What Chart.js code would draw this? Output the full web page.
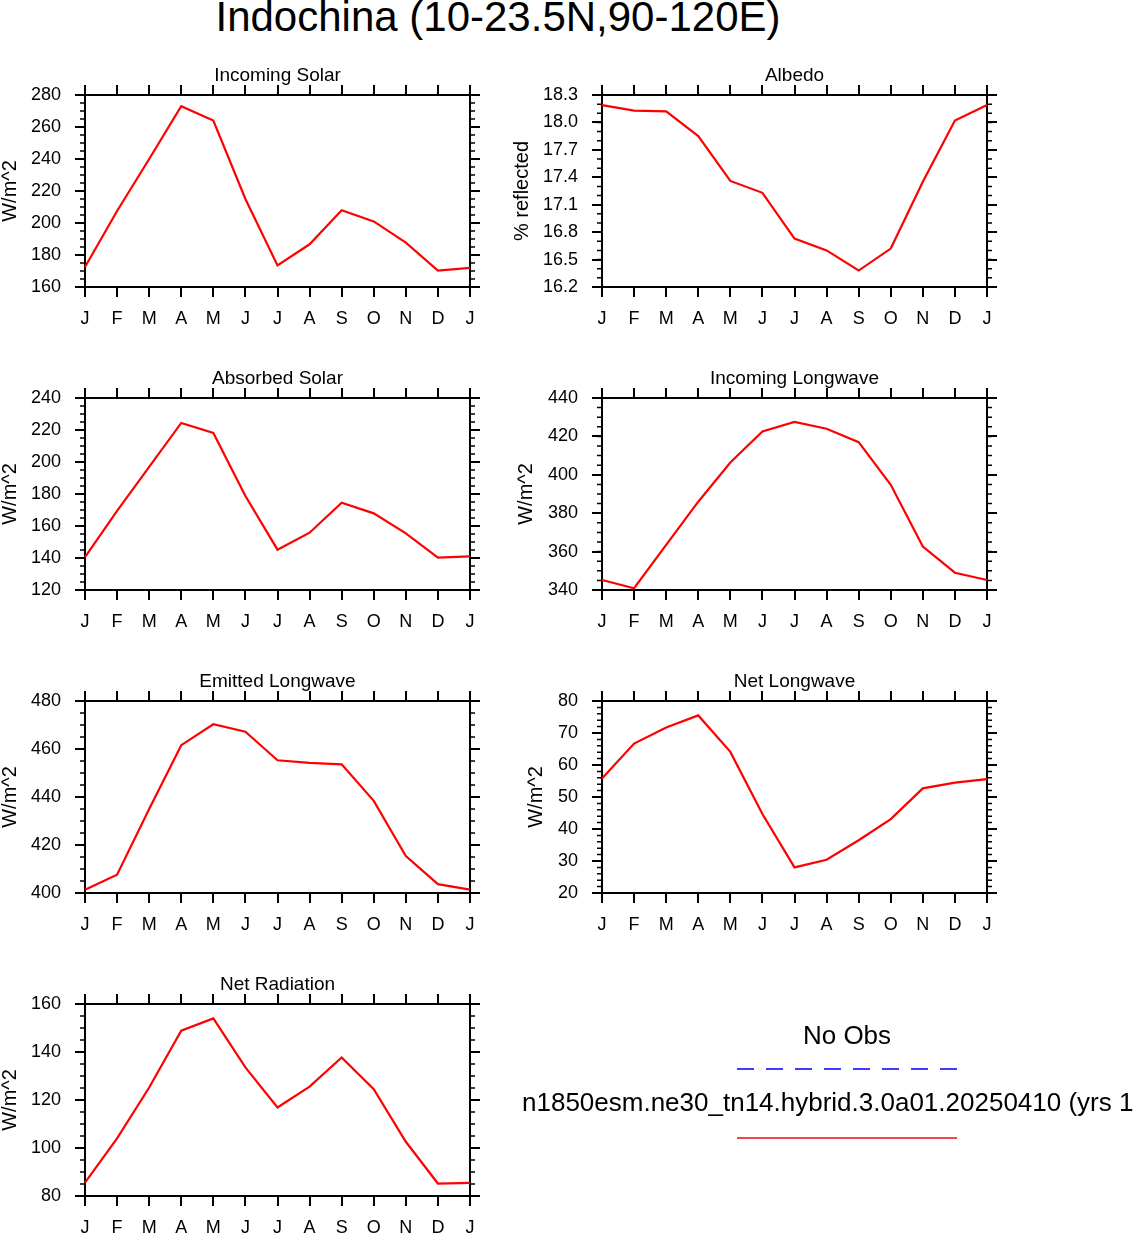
<!DOCTYPE html>
<html>
<head>
<meta charset="utf-8">
<script src="https://cdn.jsdelivr.net/npm/chart.js@4.4.1/dist/chart.umd.min.js"></script>
<style>
    body { margin: 0; background: #fff; }
    #page { position: relative; width: 1135px; height: 1235px; overflow: hidden; font-family: "Liberation Sans", Arial, sans-serif; }
    #page canvas { position: absolute; }
    #title { position: absolute; left: 0; top: -4px; width: 996px; text-align: center; font-size: 42px; line-height: 42px; }
</style>
</head>
<body>
<div id="page">
    <div id="title">Indochina (10-23.5N,90-120E)</div>
    <canvas id="legend" width="640" height="150" style="left:495px;top:1010px"></canvas>
</div>
<script>
// 月份标签 (J..D 再回到 J)
const months = ['J', 'F', 'M', 'A', 'M', 'J', 'J', 'A', 'S', 'O', 'N', 'D', 'J'];

// 各面板数据
const incomingSolar = [172.5, 207.5, 240, 273, 264, 215, 173.5, 186.7, 208, 201, 187.7, 170.3, 172];
const albedo = [18.19, 18.13, 18.12, 17.85, 17.36, 17.23, 16.73, 16.60, 16.38, 16.62, 17.35, 18.02, 18.19];
const absorbedSolar = [140.6, 169.5, 197, 224.4, 218.2, 178.7, 145.2, 155.8, 174.5, 167.9, 155.4, 140.2, 141];
const incomingLongwave = [345.2, 340.9, 363.5, 386, 406.4, 422.6, 427.5, 424, 417, 394.8, 362.6, 349, 345.2];
const emittedLongwave = [401.4, 407.6, 435, 461.6, 470.3, 467.2, 455.3, 454.2, 453.6, 438.4, 415.4, 403.7, 401.4];
const netLongwave = [55.8, 66.7, 71.7, 75.5, 64.1, 44.7, 28, 30.4, 36.5, 43.1, 52.7, 54.5, 55.6];
const netRadiation = [85.6, 104, 125.2, 148.9, 154, 133.6, 116.9, 125.6, 137.7, 124.5, 102.6, 85.2, 85.5];

// y 轴刻度: [最小, 最大, 主刻度, 次刻度]
const incomingSolarTicks = [160, 280, 20, 5];
const albedoTicks = [16.2, 18.3, 0.3, 0.1];
const absorbedSolarTicks = [120, 240, 20, 5];
const incomingLongwaveTicks = [340, 440, 20, 5];
const emittedLongwaveTicks = [400, 480, 20, 5];
const netLongwaveTicks = [20, 80, 10, 2];
const netRadiationTicks = [80, 160, 20, 5];

// 版面
const PLOT_W = 385, PLOT_H = 192;
const AXIS_W = 100, RIGHT_W = 20, TOP_H = 40, BOTTOM_H = 50;
const colX = [85, 602];
const rowY = [95, 398, 701, 1004];
const FONT = '"Liberation Sans", Arial, sans-serif';

Chart.defaults.font.family = FONT;
Chart.defaults.color = '#000';

const panels = [
    { title: 'Incoming Solar', ylabel: 'W/m^2', values: incomingSolar, ticks: incomingSolarTicks, dec: 0, col: 0, row: 0, ylPad: 13 },
    { title: 'Albedo', ylabel: '% reflected', values: albedo, ticks: albedoTicks, dec: 1, col: 1, row: 0, ylPad: 8 },
    { title: 'Absorbed Solar', ylabel: 'W/m^2', values: absorbedSolar, ticks: absorbedSolarTicks, dec: 0, col: 0, row: 1, ylPad: 13 },
    { title: 'Incoming Longwave', ylabel: 'W/m^2', values: incomingLongwave, ticks: incomingLongwaveTicks, dec: 0, col: 1, row: 1, ylPad: 12 },
    { title: 'Emitted Longwave', ylabel: 'W/m^2', values: emittedLongwave, ticks: emittedLongwaveTicks, dec: 0, col: 0, row: 2, ylPad: 13 },
    { title: 'Net Longwave', ylabel: 'W/m^2', values: netLongwave, ticks: netLongwaveTicks, dec: 0, col: 1, row: 2, ylPad: 22 },
    { title: 'Net Radiation', ylabel: 'W/m^2', values: netRadiation, ticks: netRadiationTicks, dec: 0, col: 0, row: 3, ylPad: 13 }
];

/**
 * 次刻度 (向外的短刻度线)
 */
const minorTicks = {
    id: 'minorTicks',
    afterDraw(chart, args, opts) {
        const { ctx, chartArea } = chart;
        ['y', 'y2'].forEach(id => {
            const s = chart.scales[id];
            const n = Math.round((s.max - s.min) / opts.step);
            const x = id === 'y' ? chartArea.left : chartArea.right;
            const dir = id === 'y' ? -1 : 1;
            ctx.save();
            ctx.strokeStyle = '#000';
            ctx.lineWidth = 1.5;
            ctx.beginPath();
            for (let i = 0; i <= n; i++) {
                const py = s.getPixelForValue(s.min + i * opts.step);
                ctx.moveTo(x, py);
                ctx.lineTo(x + dir * 5, py);
            }
            ctx.stroke();
            ctx.restore();
        });
    }
};

const page = document.getElementById('page');

function makePanel(p) {
    const [min, max, step, minor] = p.ticks;
    const canvas = document.createElement('canvas');
    canvas.width = AXIS_W + PLOT_W + RIGHT_W;
    canvas.height = TOP_H + PLOT_H + BOTTOM_H;
    canvas.style.left = (colX[p.col] - AXIS_W) + 'px';
    canvas.style.top = (rowY[p.row] - TOP_H) + 'px';
    page.appendChild(canvas);

    const frame = { display: true, color: '#000', width: 2 };
    const tickGrid = { drawOnChartArea: false, drawTicks: true, tickLength: 10, color: '#000', lineWidth: 2 };

    new Chart(canvas, {
        type: 'line',
        data: {
            labels: months,
            datasets: [{
                data: p.values,
                borderColor: '#ff0000',
                borderWidth: 2.2,
                pointRadius: 0,
                tension: 0,
                fill: false
            }]
        },
        options: {
            responsive: false,
            animation: false,
            devicePixelRatio: 1,
            layout: { padding: 0 },
            plugins: {
                legend: { display: false },
                tooltip: { enabled: false },
                minorTicks: { step: minor }
            },
            scales: {
                x: {
                    type: 'category',
                    position: 'bottom',
                    grid: tickGrid,
                    border: frame,
                    ticks: { font: { size: 18 }, padding: 11, maxRotation: 0, autoSkip: false },
                    afterFit(s) { s.height = BOTTOM_H; }
                },
                x2: {
                    type: 'category',
                    axis: 'x',
                    position: 'top',
                    grid: tickGrid,
                    border: frame,
                    ticks: { display: false },
                    title: {
                        display: true,
                        text: p.title,
                        font: { size: 19 },
                        padding: { top: 9, bottom: 0 }
                    },
                    afterFit(s) { s.height = TOP_H; }
                },
                y: {
                    type: 'linear',
                    position: 'left',
                    min: min,
                    max: max,
                    grid: tickGrid,
                    border: frame,
                    ticks: {
                        stepSize: step,
                        font: { size: 18 },
                        padding: 14,
                        callback: v => Number(v).toFixed(p.dec)
                    },
                    title: {
                        display: true,
                        text: p.ylabel,
                        font: { size: 20 },
                        padding: { top: p.ylPad, bottom: 0 }
                    },
                    afterFit(s) { s.width = AXIS_W; }
                },
                y2: {
                    type: 'linear',
                    axis: 'y',
                    position: 'right',
                    min: min,
                    max: max,
                    grid: tickGrid,
                    border: frame,
                    ticks: { display: false, stepSize: step },
                    afterFit(s) { s.width = RIGHT_W; }
                }
            }
        },
        plugins: [minorTicks]
    });
}

panels.forEach(makePanel);

// 图例
const lg = document.getElementById('legend').getContext('2d');
lg.fillStyle = '#000';
lg.textBaseline = 'middle';
lg.font = '26px ' + FONT;
lg.textAlign = 'center';
lg.fillText('No Obs', 352, 27);
lg.textAlign = 'left';
lg.fillText('n1850esm.ne30_tn14.hybrid.3.0a01.20250410 (yrs 1', 27, 94);
lg.lineWidth = 2;
lg.strokeStyle = '#3c3cff';
lg.setLineDash([17, 12]);
lg.beginPath();
lg.moveTo(242, 59);
lg.lineTo(462, 59);
lg.stroke();
lg.setLineDash([]);
lg.strokeStyle = '#f04848';
lg.beginPath();
lg.moveTo(242, 128);
lg.lineTo(462, 128);
lg.stroke();
</script>
</body>
</html>
